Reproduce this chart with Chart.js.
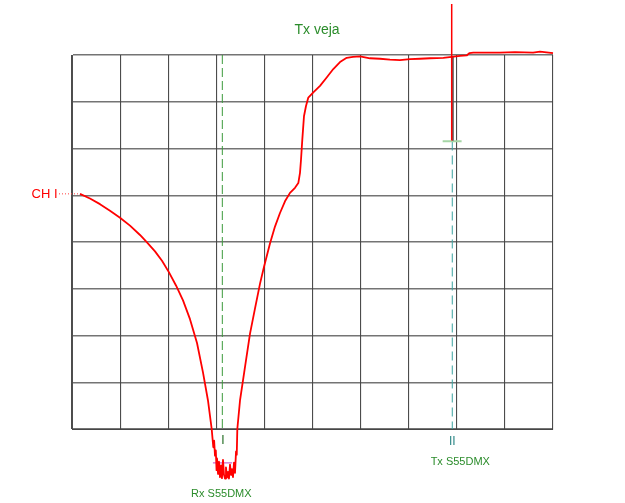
<!DOCTYPE html>
<html>
<head>
<meta charset="utf-8">
<script src="https://cdn.jsdelivr.net/npm/chart.js@4.4.1/dist/chart.umd.min.js"></script>
<style>
html,body{margin:0;padding:0;background:#fff;}
#wrap{width:625px;height:503px;}
</style>
</head>
<body>
<div id="wrap"><canvas id="c" width="625" height="503"></canvas></div>
<script>
// Trace samples (x in divisions, y in divisions)
const traceX = [0.166,0.374,0.582,0.790,0.998,1.206,1.414,1.559,1.726,1.871,2.017,2.162,2.308,2.453,2.599,2.723,2.827,2.904,2.938,2.955,2.973,2.990,3.005,3.015,3.036,3.056,3.077,3.098,3.118,3.139,3.160,3.181,3.201,3.222,3.243,3.264,3.285,3.306,3.326,3.347,3.368,3.389,3.410,3.425,3.437,3.493,3.597,3.701,3.805,3.909,3.992,4.116,4.220,4.324,4.428,4.532,4.636,4.705,4.740,4.761,4.788,4.823,4.865,4.913,5.017,5.156,5.295,5.432,5.572,5.711,5.842,5.988,6.195,6.403,6.611,6.819,7.027,7.235,7.443,7.719,7.894,8.067,8.206,8.260,8.343,8.690,8.898,9.210,9.586,9.730,10.0];
const traceY = [5.03,4.93,4.81,4.67,4.52,4.35,4.15,3.99,3.80,3.60,3.35,3.07,2.75,2.35,1.84,1.21,0.61,0.00,-0.39,-0.25,-0.57,-0.46,-0.88,-0.63,-0.96,-0.70,-1.03,-0.78,-1.05,-0.66,-0.98,-1.06,-0.82,-1.04,-0.92,-1.06,-0.76,-0.98,-0.86,-1.03,-0.72,-0.94,-0.48,-0.55,0.00,0.61,1.33,2.04,2.58,3.11,3.47,3.97,4.33,4.62,4.87,5.05,5.16,5.26,5.48,5.76,6.19,6.69,6.91,7.09,7.20,7.34,7.52,7.70,7.85,7.94,7.96,7.97,7.93,7.92,7.90,7.89,7.91,7.92,7.93,7.94,7.96,7.98,7.99,8.04,8.05,8.05,8.05,8.06,8.05,8.07,8.04];

// Cursors
const rxCursorX = 3.125;
const rxCursorY = [8, -0.03];
const txCursorX = 7.906;
const txCursorY = [6.15, 0];
const triggerX = 7.894;
const triggerY = [9.09, 6.17];
const triggerDarkY = [7.97, 6.17];
const levelMarkY = 6.155;
const levelMarkX = [7.706, 8.10];
const dipMarkY = -0.725;
const dipMarkX = [2.93, 3.33];
const chLevel = 5.03;

// Axis ticks
const xTicks = [0,1,2,3,4,5,6,7,8,9,10];
const yTicks = [0,1,2,3,4,5,6,7,8];

// Labels
const titleText = "Tx veja";
const channelLabel = "CH I";
const rxMarker = "I";
const txMarker = "II";
const rxLabel = "Rx S55DMX";
const txLabel = "Tx S55DMX";

const tracePts = traceX.map((x,i)=>({x:x,y:traceY[i]}));
const seg = (xs, ys) => [{x:xs[0],y:ys[0]},{x:xs[1],y:ys[1]}];

const FONT = '"Liberation Sans", Arial, sans-serif';

const textPlugin = {
  id:'textPlugin',
  afterDraw(chart){
    const ctx = chart.ctx;
    const xs = chart.scales.x, ys = chart.scales.y;
    ctx.save();
    ctx.fillStyle = '#2b8c2b';
    ctx.font = '14px ' + FONT;
    ctx.textAlign = 'center';
    ctx.textBaseline = 'middle';
    ctx.fillText(titleText, 317, 30);
    const yc = ys.getPixelForValue(chLevel);
    ctx.fillStyle = '#ff0000';
    ctx.font = '13px ' + FONT;
    ctx.textAlign = 'right';
    ctx.fillText(channelLabel, 57.5, yc + 1);
    ctx.strokeStyle = '#ff4040';
    ctx.lineWidth = 1;
    ctx.setLineDash([1,2]);
    ctx.beginPath();
    ctx.moveTo(59, yc); ctx.lineTo(xs.getPixelForValue(traceX[0]), yc);
    ctx.stroke();
    ctx.setLineDash([]);
    const rxPx = xs.getPixelForValue(rxCursorX);
    const txPx = xs.getPixelForValue(txCursorX);
    const bottom = chart.chartArea.bottom;
    ctx.textAlign = 'center';
    ctx.font = '12px ' + FONT;
    ctx.fillStyle = '#1f6b1f';
    ctx.fillText(rxMarker, rxPx + 0.5, bottom + 12);
    ctx.fillStyle = '#2a8585';
    ctx.fillText(txMarker, txPx, bottom + 13);
    ctx.font = '11px ' + FONT;
    ctx.fillStyle = '#2b8c2b';
    ctx.fillText(rxLabel, rxPx - 1, bottom + 65);
    ctx.fillText(txLabel, txPx + 8, bottom + 33);
    ctx.restore();
  }
};

new Chart(document.getElementById('c'), {
  type:'line',
  data:{
    datasets:[
      {data:tracePts, borderColor:'#ff0000', borderWidth:1.8, pointRadius:0, clip:false, tension:0, borderJoinStyle:'round'},
      {data:seg([dipMarkX[0],dipMarkX[1]],[dipMarkY,dipMarkY]), borderColor:'#c040c0', borderWidth:1, pointRadius:0, clip:false},
      {data:seg([triggerX,triggerX],triggerY), borderColor:'#ff0000', borderWidth:1.5, pointRadius:0, clip:false},
      {data:seg([triggerX+0.025,triggerX+0.025],triggerDarkY), borderColor:'#555555', borderWidth:1, pointRadius:0, clip:false},
      {data:seg(levelMarkX,[levelMarkY,levelMarkY]), borderColor:'#a6d6a6', borderWidth:2, pointRadius:0, clip:false},
      {data:seg([rxCursorX,rxCursorX],rxCursorY), borderColor:'#3c9a3c', borderWidth:1, borderDash:[9,4], pointRadius:0, clip:false},
      {data:seg([txCursorX,txCursorX],txCursorY), borderColor:'#3aa3a0', borderWidth:1, borderDash:[9,5], pointRadius:0, clip:false}
    ]
  },
  options:{
    responsive:false,
    animation:false,
    layout:{padding:{left:72,right:72,top:55,bottom:74}},
    plugins:{legend:{display:false},tooltip:{enabled:false},title:{display:false}},
    scales:{
      x:{type:'linear',min:0,max:10,
        afterBuildTicks:(s)=>{s.ticks = xTicks.map(v=>({value:v}));},
        ticks:{display:false},
        grid:{color:'rgba(45,45,45,0.85)',lineWidth:1.1,drawTicks:false},
        border:{display:true,color:'rgba(50,50,50,0.85)',width:1}},
      y:{type:'linear',min:0,max:8,
        afterBuildTicks:(s)=>{s.ticks = yTicks.map(v=>({value:v}));},
        ticks:{display:false},
        grid:{color:'rgba(70,70,70,0.75)',lineWidth:1.5,drawTicks:false},
        border:{display:true,color:'rgba(50,50,50,0.85)',width:1}}
    }
  },
  plugins:[textPlugin]
});
</script>
</body>
</html>
